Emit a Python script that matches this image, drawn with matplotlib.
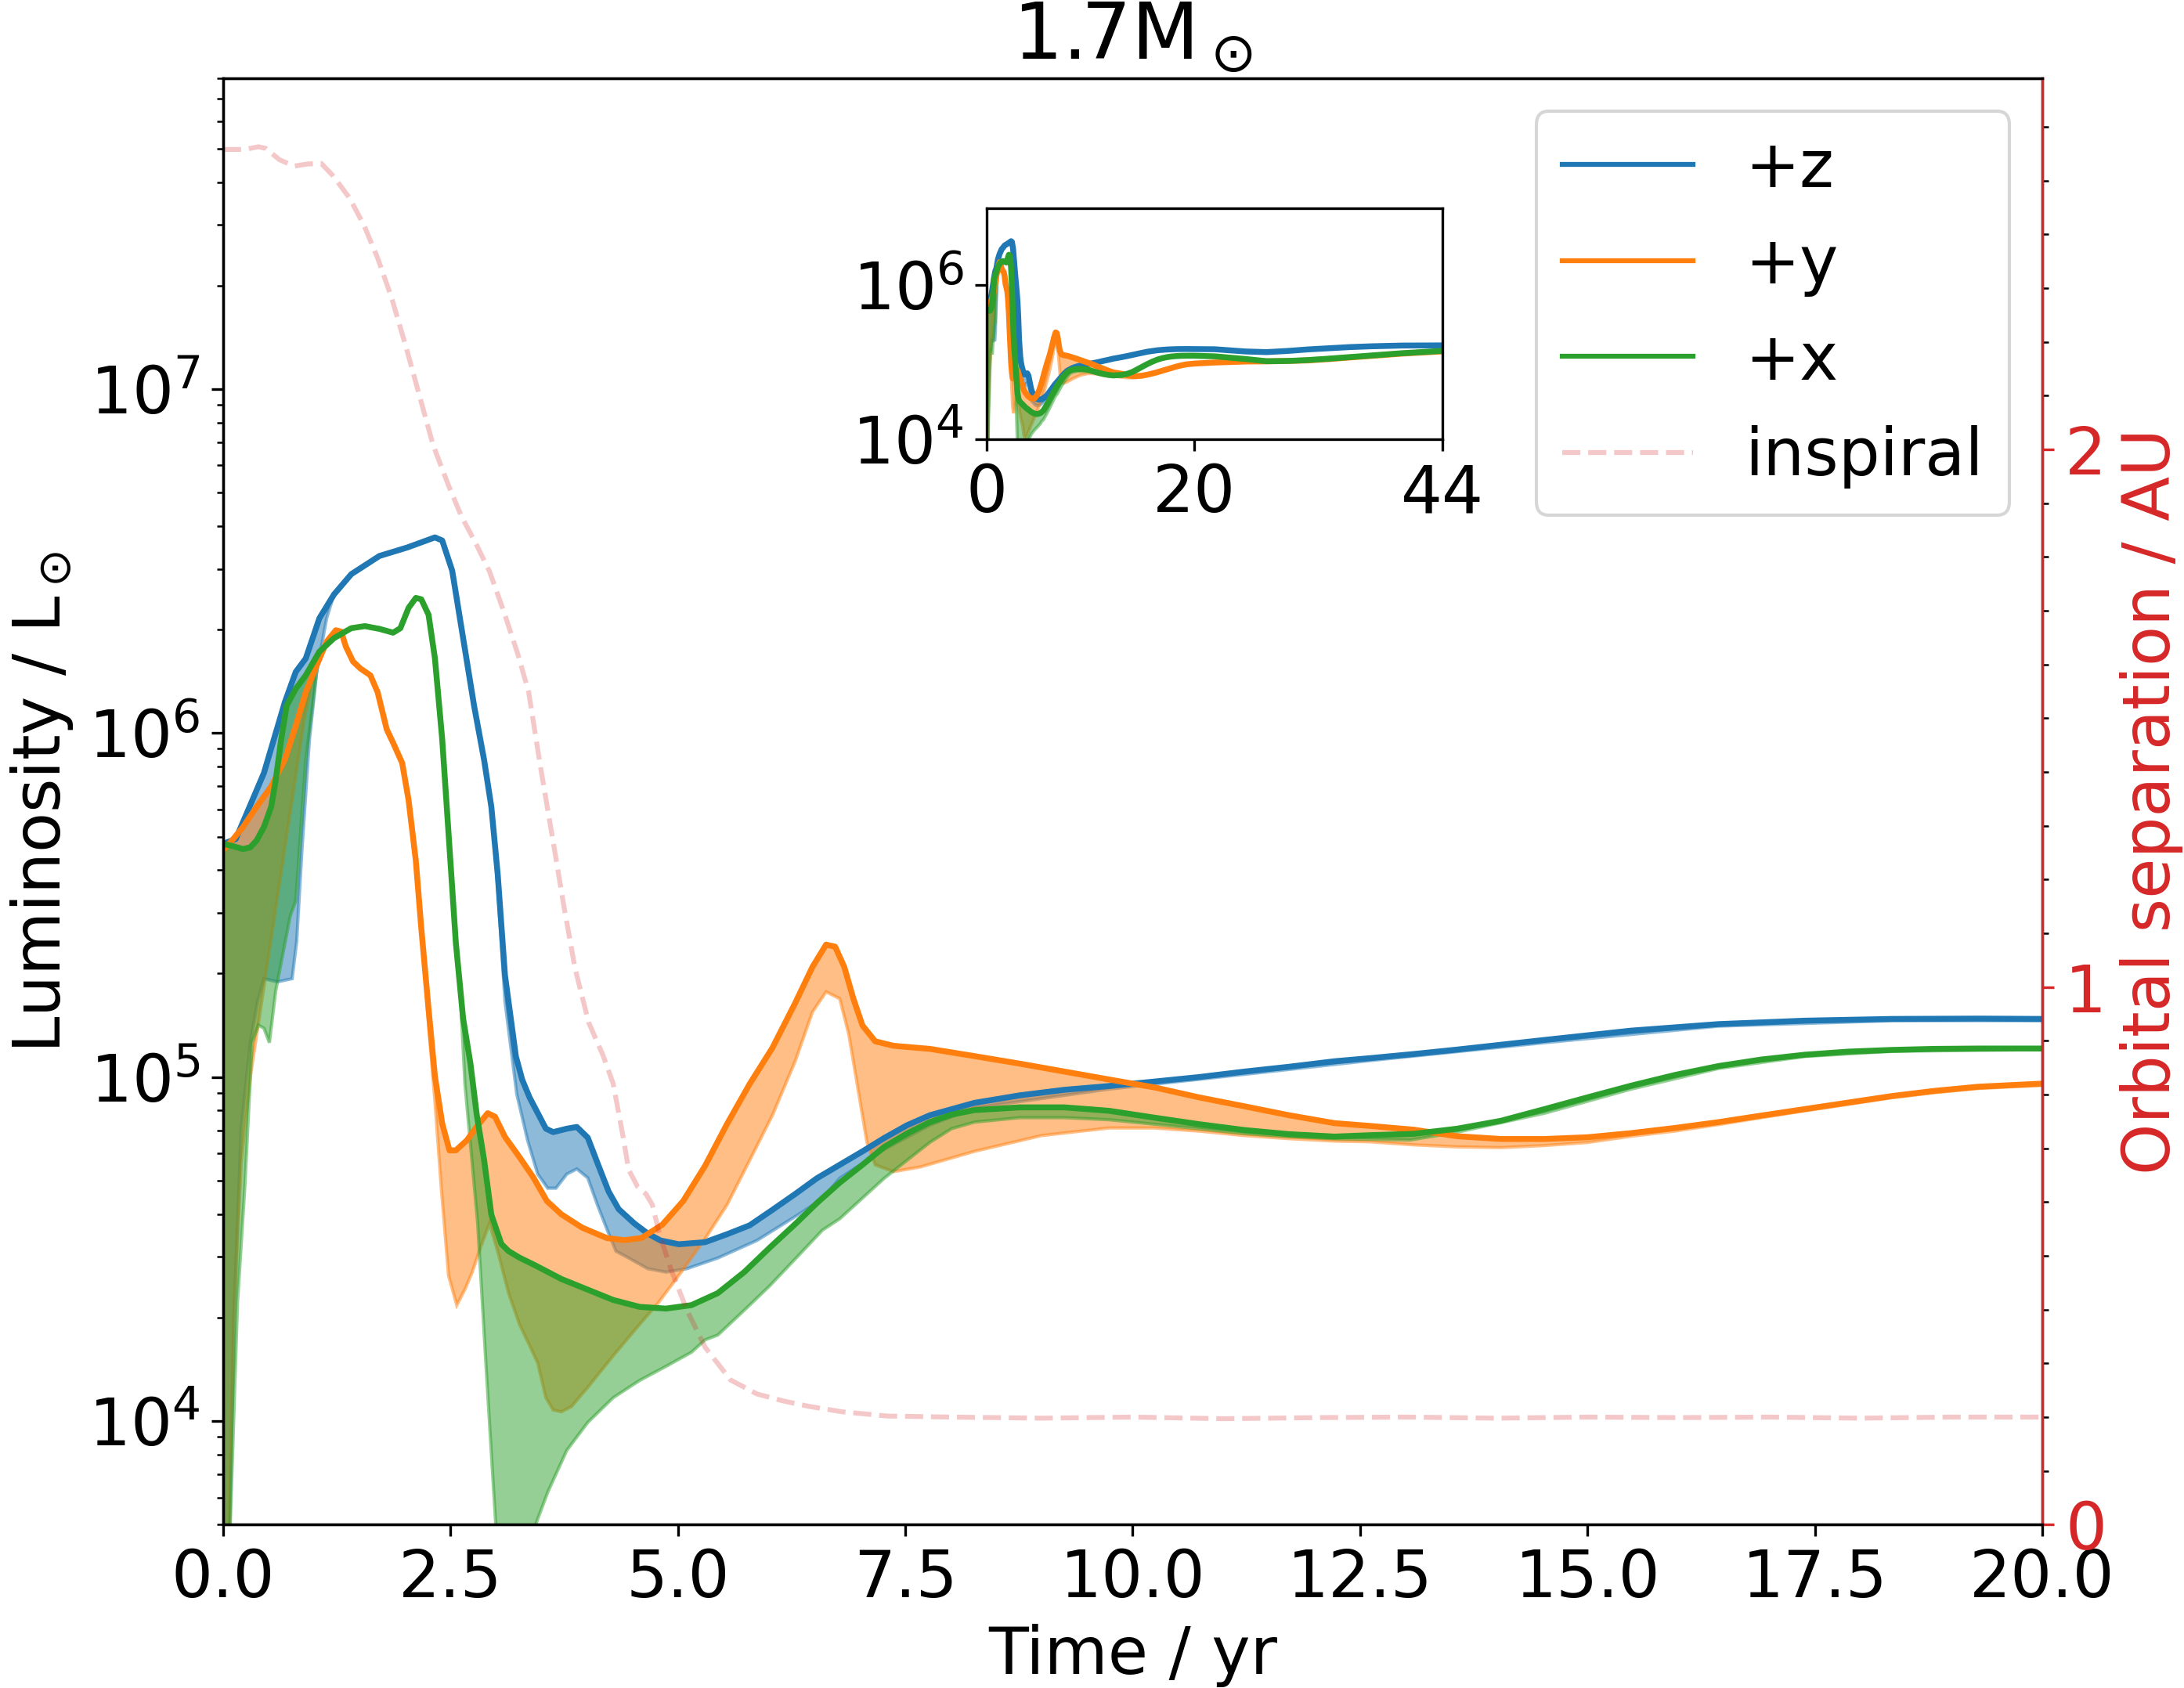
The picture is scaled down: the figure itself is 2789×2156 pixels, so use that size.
import numpy as np
import matplotlib
matplotlib.use('Agg')
import matplotlib.pyplot as plt
from matplotlib.ticker import MultipleLocator, NullLocator

plt.rcParams['font.size'] = 20

# ---------------- data (log10 of luminosity in Lsun, time in yr) ----------------
# +z direction, main line (upper edge of band)
t_z = [0.0, 0.14, 0.26, 0.45, 0.68, 0.80, 0.91, 1.06, 1.22, 1.41, 1.72, 2.03, 2.33, 2.41, 2.52,
       2.64, 2.76, 2.87, 2.95, 3.02, 3.10, 3.22, 3.29, 3.37, 3.55, 3.63, 3.78, 3.89, 4.01, 4.12,
       4.24, 4.35, 4.52, 4.67, 4.81, 5.01, 5.30, 5.54, 5.79, 6.04, 6.29, 6.53, 6.78, 7.03, 7.27,
       7.52, 7.77, 8.26, 8.76, 9.25, 9.74, 10.24, 10.73, 11.23, 11.72, 12.22, 12.61, 13.09, 13.57, 14.53,
       15.48, 16.44, 17.39, 18.35, 19.30, 20.0]
logL_z = [5.678, 5.692, 5.766, 5.884, 6.090, 6.178, 6.217, 6.334, 6.403, 6.462, 6.515, 6.540, 6.569, 6.560, 6.472,
          6.276, 6.080, 5.923, 5.786, 5.590, 5.296, 5.060, 4.992, 4.941, 4.850, 4.840, 4.850, 4.855, 4.824, 4.748,
          4.667, 4.616, 4.575, 4.545, 4.525, 4.514, 4.520, 4.543, 4.569, 4.614, 4.660, 4.706, 4.745, 4.784, 4.823,
          4.860, 4.889, 4.925, 4.947, 4.963, 4.974, 4.987, 5.000, 5.016, 5.030, 5.046, 5.055, 5.067, 5.080, 5.108,
          5.135, 5.154, 5.164, 5.169, 5.170, 5.169]
# +z lower edge of band
t_z_lo = [0.0, 0.06, 0.12, 0.20, 0.30, 0.38, 0.45, 0.60, 0.76, 0.81, 0.87, 0.95, 1.03, 1.14, 1.22,
          1.41, 1.72, 2.03, 2.33, 2.41, 2.52, 2.64, 2.76, 2.87, 2.95, 3.02, 3.10, 3.23, 3.35, 3.46,
          3.57, 3.66, 3.78, 3.89, 4.01, 4.12, 4.24, 4.32, 4.46, 4.67, 4.87, 5.10, 5.44, 5.87, 6.30,
          6.59, 6.78, 7.27, 7.77, 8.26, 9.74, 11.23, 12.61, 14.53, 16.44, 18.35, 20.0]
logL_z_lo = [3.0, 3.5, 4.3, 4.85, 5.10, 5.22, 5.286, 5.277, 5.286, 5.394, 5.669, 5.98, 6.178, 6.334, 6.403,
             6.462, 6.515, 6.540, 6.569, 6.560, 6.472, 6.276, 6.080, 5.923, 5.786, 5.55, 5.22, 4.95, 4.815, 4.718,
             4.677, 4.677, 4.718, 4.733, 4.707, 4.626, 4.545, 4.494, 4.474, 4.443, 4.433, 4.443, 4.474, 4.525, 4.596,
             4.646, 4.706, 4.79, 4.86, 4.91, 4.965, 5.008, 5.048, 5.100, 5.148, 5.164, 5.164]

# +y direction
t_y = [0.0, 0.10, 0.22, 0.37, 0.53, 0.68, 0.80, 0.91, 1.03, 1.14, 1.24, 1.30, 1.35, 1.43, 1.51,
       1.62, 1.70, 1.80, 1.87, 1.97, 2.04, 2.12, 2.18, 2.26, 2.33, 2.41, 2.49, 2.56, 2.68, 2.79,
       2.91, 2.99, 3.10, 3.26, 3.41, 3.56, 3.72, 3.95, 4.22, 4.41, 4.60, 4.83, 5.06, 5.30, 5.54,
       5.79, 6.04, 6.29, 6.48, 6.63, 6.73, 6.83, 6.93, 7.03, 7.17, 7.37, 7.77, 8.26, 8.76, 9.25,
       9.74, 10.24, 10.73, 11.23, 11.72, 12.22, 12.61, 13.09, 13.57, 14.05, 14.53, 15.00, 15.48, 15.96, 16.44,
       16.91, 17.39, 17.87, 18.35, 18.82, 19.30, 20.0]
logL_y = [5.660, 5.688, 5.727, 5.786, 5.845, 5.923, 6.021, 6.119, 6.197, 6.266, 6.299, 6.295, 6.252, 6.208, 6.188,
          6.168, 6.119, 6.011, 5.972, 5.913, 5.806, 5.629, 5.433, 5.198, 5.002, 4.865, 4.787, 4.787, 4.816, 4.856,
          4.895, 4.885, 4.826, 4.767, 4.709, 4.640, 4.601, 4.562, 4.532, 4.526, 4.532, 4.571, 4.640, 4.742, 4.863,
          4.980, 5.085, 5.215, 5.320, 5.385, 5.379, 5.320, 5.228, 5.150, 5.104, 5.091, 5.082, 5.061, 5.039, 5.016,
          4.993, 4.970, 4.941, 4.915, 4.889, 4.866, 4.858, 4.847, 4.828, 4.820, 4.820, 4.825, 4.837, 4.852, 4.869,
          4.888, 4.907, 4.926, 4.945, 4.960, 4.972, 4.981]
t_y_lo = [0.0, 0.06, 0.12, 0.20, 0.30, 0.50, 0.70, 0.90, 1.05, 1.14, 1.24, 1.30, 1.35, 1.43, 1.51,
          1.62, 1.70, 1.80, 1.87, 1.97, 2.04, 2.12, 2.18, 2.26, 2.33, 2.40, 2.48, 2.57, 2.66, 2.74,
          2.83, 2.93, 3.03, 3.14, 3.26, 3.37, 3.46, 3.55, 3.63, 3.72, 3.83, 4.01, 4.29, 4.58, 4.78,
          5.01, 5.30, 5.54, 5.79, 6.04, 6.29, 6.48, 6.63, 6.78, 6.88, 6.98, 7.08, 7.17, 7.37, 7.67,
          8.26, 9.00, 9.74, 10.24, 10.73, 11.23, 11.72, 12.22, 12.61, 13.09, 13.57, 14.05, 14.53, 15.00, 15.48,
          15.96, 16.44, 16.91, 17.39, 17.87, 18.35, 18.82, 19.30, 20.0]
logL_y_lo = [3.0, 3.6, 4.3, 4.75, 5.0, 5.35, 5.7, 6.05, 6.23, 6.266, 6.299, 6.295, 6.252, 6.208, 6.188,
             6.168, 6.119, 6.011, 5.972, 5.913, 5.806, 5.629, 5.433, 5.15, 4.93, 4.677, 4.423, 4.337, 4.383, 4.433,
             4.504, 4.575, 4.484, 4.372, 4.281, 4.220, 4.169, 4.068, 4.032, 4.027, 4.042, 4.098, 4.190, 4.281, 4.342,
             4.423, 4.530, 4.628, 4.758, 4.889, 5.046, 5.189, 5.248, 5.228, 5.124, 4.967, 4.810, 4.745, 4.725, 4.739,
             4.784, 4.830, 4.852, 4.852, 4.843, 4.830, 4.821, 4.814, 4.812, 4.803, 4.797, 4.795, 4.801, 4.810, 4.828,
             4.843, 4.862, 4.882, 4.902, 4.921, 4.940, 4.955, 4.967, 4.976]

# +x direction
t_x = [0.0, 0.10, 0.22, 0.30, 0.37, 0.45, 0.53, 0.58, 0.64, 0.70, 0.80, 0.91, 1.06, 1.22, 1.41,
       1.56, 1.72, 1.87, 1.95, 2.04, 2.12, 2.18, 2.26, 2.33, 2.41, 2.49, 2.56, 2.64, 2.72, 2.79,
       2.87, 2.95, 3.06, 3.14, 3.26, 3.43, 3.72, 4.01, 4.29, 4.58, 4.87, 5.15, 5.44, 5.73, 6.01,
       6.30, 6.53, 6.78, 7.03, 7.27, 7.52, 7.77, 8.01, 8.26, 8.76, 9.25, 9.74, 10.24, 10.73, 11.23,
       11.72, 12.22, 12.61, 13.09, 13.57, 14.05, 14.53, 15.00, 15.48, 15.96, 16.44, 16.91, 17.39, 17.87, 18.35,
       18.82, 19.30, 20.0]
logL_x = [5.678, 5.672, 5.663, 5.668, 5.688, 5.727, 5.786, 5.864, 5.982, 6.080, 6.129, 6.168, 6.237, 6.276, 6.305,
          6.311, 6.303, 6.292, 6.305, 6.364, 6.393, 6.389, 6.344, 6.217, 5.982, 5.668, 5.390, 5.170, 5.040, 4.890,
          4.760, 4.600, 4.515, 4.494, 4.475, 4.453, 4.413, 4.382, 4.352, 4.332, 4.327, 4.337, 4.372, 4.433, 4.504,
          4.575, 4.634, 4.693, 4.745, 4.797, 4.836, 4.869, 4.891, 4.904, 4.912, 4.912, 4.902, 4.882, 4.863, 4.846,
          4.834, 4.827, 4.831, 4.835, 4.850, 4.873, 4.907, 4.941, 4.975, 5.006, 5.032, 5.051, 5.065, 5.074, 5.079,
          5.082, 5.083, 5.083]
t_x_lo = [0.0, 0.08, 0.16, 0.24, 0.32, 0.39, 0.45, 0.51, 0.58, 0.74, 0.80, 0.91, 1.03, 1.06, 1.22,
          1.41, 1.56, 1.72, 1.87, 1.95, 2.04, 2.12, 2.18, 2.26, 2.33, 2.41, 2.49, 2.56, 2.60, 2.66,
          2.80, 2.89, 2.96, 3.00, 3.20, 3.43, 3.57, 3.78, 4.01, 4.29, 4.58, 4.87, 5.15, 5.30, 5.44,
          5.73, 6.01, 6.29, 6.59, 6.78, 7.27, 7.52, 7.77, 8.01, 8.26, 8.76, 9.25, 9.74, 10.24, 10.73,
          11.23, 11.72, 12.22, 13.05, 13.57, 14.53, 15.48, 16.44, 17.39, 18.35, 20.0]
logL_x_lo = [3.0, 3.7, 4.346, 4.681, 5.10, 5.151, 5.142, 5.10, 5.251, 5.469, 5.512, 5.923, 6.178, 6.237, 6.276,
             6.305, 6.311, 6.303, 6.292, 6.305, 6.364, 6.393, 6.389, 6.344, 6.217, 5.982, 5.668, 5.390, 5.286, 4.98,
             4.575, 4.169, 3.864, 3.694, 3.4, 3.694, 3.793, 3.915, 3.996, 4.068, 4.118, 4.159, 4.200, 4.236, 4.250,
             4.322, 4.393, 4.471, 4.555, 4.588, 4.706, 4.758, 4.810, 4.850, 4.869, 4.882, 4.882, 4.876, 4.863, 4.850,
             4.836, 4.827, 4.821, 4.817, 4.840, 4.895, 4.965, 5.025, 5.060, 5.075, 5.080]

# orbital separation (AU)
t_sep = [0.0, 0.24, 0.39, 0.47, 0.62, 0.78, 0.93, 1.08, 1.21, 1.39, 1.55, 1.70, 1.85, 2.01, 2.16,
         2.31, 2.47, 2.62, 2.78, 2.93, 3.08, 3.24, 3.36, 3.49, 3.64, 3.75, 3.87, 4.02, 4.18, 4.29,
         4.40, 4.46, 4.56, 4.65, 4.72, 4.80, 4.92, 5.10, 5.30, 5.58, 5.87, 6.16, 6.44, 6.80, 7.30,
         8.0, 9.0, 10.0, 11.0, 12.0, 13.0, 14.0, 15.0, 16.0, 17.0, 18.0, 19.0, 20.0]
sep = [2.558, 2.558, 2.563, 2.560, 2.539, 2.527, 2.531, 2.532, 2.509, 2.468, 2.417, 2.356, 2.284, 2.192, 2.100,
       2.008, 1.937, 1.876, 1.825, 1.773, 1.702, 1.620, 1.549, 1.410, 1.260, 1.148, 1.035, 0.934, 0.872, 0.820,
       0.720, 0.660, 0.628, 0.615, 0.595, 0.540, 0.477, 0.399, 0.330, 0.269, 0.243, 0.230, 0.220, 0.210, 0.202,
       0.200, 0.198, 0.200, 0.197, 0.199, 0.200, 0.198, 0.200, 0.199, 0.200, 0.198, 0.200, 0.200]

# late times, only shown in the inset
t_tail = [22.0, 25.0, 27.0, 29.0, 31.0, 33.0, 35.0, 37.0, 40.0, 44.0]
z_tail = [5.167, 5.138, 5.130, 5.145, 5.165, 5.180, 5.195, 5.205, 5.215, 5.217]
y_tail = [4.995, 5.008, 5.010, 5.015, 5.022, 5.040, 5.060, 5.080, 5.110, 5.140]
x_tail = [5.075, 5.040, 5.012, 5.015, 5.027, 5.045, 5.065, 5.085, 5.115, 5.146]

labels = ['+z', '+y', '+x']
colors = ['tab:blue', 'tab:orange', 'tab:green']
series = [(t_z, logL_z, t_z_lo, logL_z_lo, z_tail),
          (t_y, logL_y, t_y_lo, logL_y_lo, y_tail),
          (t_x, logL_x, t_x_lo, logL_x_lo, x_tail)]

# ---------------- figure ----------------
fig = plt.figure(figsize=(2789 / 300, 2156 / 300), dpi=300)
ax = fig.add_axes([0.1021, 0.0968, 0.8330, 0.8567])
ax.set_yscale('log')

handles = []
for (t, hi, t_lo, lo, tail), c, lab in zip(series, colors, labels):
    # band between the two estimates, drawn as a closed polygon
    xs = np.concatenate([t, t_lo[::-1]])
    ys = 10 ** np.concatenate([hi, lo[::-1]])
    ax.fill(xs, ys, color=c, alpha=0.5, lw=1)
    h, = ax.plot(t, 10 ** np.array(hi), color=c, lw=1.8, label=lab)
    handles.append(h)

ax.set_xlim(0, 20)
ax.set_ylim(5e3, 8e7)
ax.set_xticks(np.arange(0, 20.1, 2.5))
ax.set_xlabel('Time / yr')
ax.set_ylabel(r'Luminosity / $\mathrm{L}_\odot$')
ax.set_title(r'1.7$\mathrm{M}_\odot$')

# orbital separation on the right
ax2 = ax.twinx()
h_sep, = ax2.plot(t_sep, sep, '--', color='tab:red', alpha=0.25, lw=1.5, label='inspiral')
handles.append(h_sep)
ax2.set_ylim(0, 2.69)
ax2.yaxis.set_major_locator(MultipleLocator(1))
ax2.yaxis.set_minor_locator(MultipleLocator(0.1))
ax2.tick_params(axis='y', which='major', colors='tab:red')
ax2.spines['right'].set_color('tab:red')
ax2.set_ylabel('Orbital separation / AU', color='tab:red')

leg = ax2.legend(handles=handles, labels=['+z', '+y', '+x', 'inspiral'], loc='upper right')
for ln in leg.get_lines()[:3]:
    ln.set_linewidth(1.5)

# inset with the whole run
axin = fig.add_axes([0.4519, 0.7398, 0.2087, 0.1370])
axin.set_yscale('log')
for (t, hi, t_lo, lo, tail), c in zip(series, colors):
    tt = np.concatenate([t, t_tail])
    hh = np.concatenate([hi, tail])
    tl = np.concatenate([t_lo, t_tail])
    ll = np.concatenate([lo, tail])
    axin.fill(np.concatenate([tt, tl[::-1]]), 10 ** np.concatenate([hh, ll[::-1]]),
              color=c, alpha=0.5, lw=1)
    axin.plot(tt, 10 ** hh, color=c, lw=1.8)
axin.set_xlim(0, 44)
axin.set_ylim(1e4, 1e7)
axin.set_xticks([0, 20, 44])
axin.set_yticks([1e4, 1e6])
axin.yaxis.set_minor_locator(NullLocator())

fig.savefig('out.png', dpi=300)
